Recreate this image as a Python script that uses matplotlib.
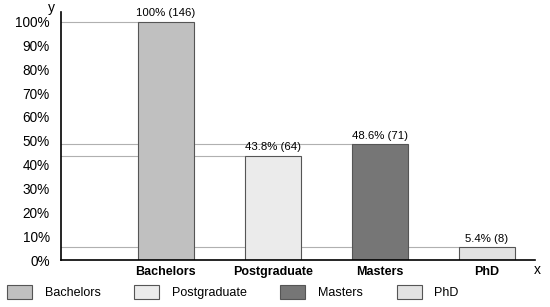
import matplotlib
matplotlib.use('Agg')
import matplotlib.pyplot as plt
from matplotlib.patches import Patch

plt.rcParams['font.family'] = ['Liberation Sans', 'DejaVu Sans']

categories = ['Bachelors', 'Postgraduate', 'Masters', 'PhD']
percent = [100, 43.8, 48.6, 5.4]
counts = [146, 64, 71, 8]
labels = ['100%', '43.8%', '48.6%', '5.4%']
colors = ['#c0c0c0', '#ebebeb', '#767676', '#e2e2e2']
yticks = [0, 10, 20, 30, 40, 50, 60, 70, 80, 90, 100]

fig = plt.figure(figsize=(5.5, 3.07), dpi=100)
ax = fig.add_axes([0.111, 0.153, 0.862, 0.808])

xs = list(range(len(categories)))
width = 0.52

# reference lines from the y axis to each bar
for x, p in zip(xs, percent):
    ax.plot([-0.98, x - width / 2], [p, p], color='#b0b0b0', lw=0.8, zorder=1)

bars = ax.bar(xs, percent, width=width, color=colors, edgecolor='#555555', lw=0.8, zorder=2)
for x, p, l, c in zip(xs, percent, labels, counts):
    ax.text(x, p + 1.5, '%s (%d)' % (l, c), ha='center', va='bottom', fontsize=8.2)

ax.set_xlim(-0.98, 3.45)
ax.set_ylim(0, 104)
ax.set_yticks(yticks)
ax.set_yticklabels(['%d%%' % t for t in yticks], fontsize=9.8)
ax.set_xticks(xs)
ax.set_xticklabels(categories, fontsize=9, fontweight='bold')
ax.tick_params(axis='y', length=0, pad=8)
ax.tick_params(axis='x', length=0, pad=4)
ax.spines['top'].set_visible(False)
ax.spines['right'].set_visible(False)
ax.spines['left'].set_linewidth(1.2)
ax.spines['bottom'].set_linewidth(1.2)

fig.text(0.094, 0.975, 'y', fontsize=10, ha='center', va='center')
fig.text(0.977, 0.12, 'x', fontsize=10, ha='center', va='center')

handles = [Patch(facecolor=c, edgecolor='#555555', lw=0.8) for c in colors]
fig.legend(handles, categories, loc='center left', bbox_to_anchor=(0.013, 0.048),
           ncol=4, frameon=False, fontsize=9, handlelength=2.0, handleheight=1.3,
           handletextpad=1.0, columnspacing=2.7, borderpad=0, borderaxespad=0)

fig.savefig('out.png', dpi=100)
